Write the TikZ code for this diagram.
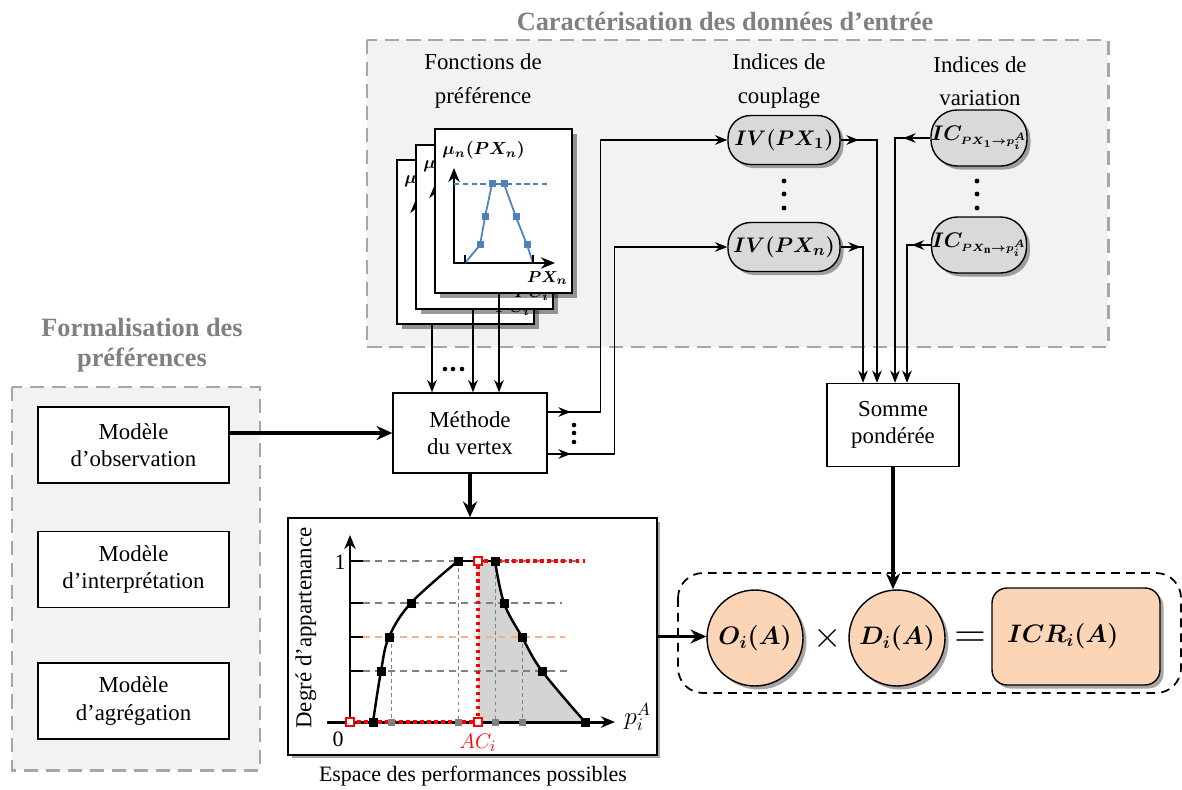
\documentclass[tikz,border=0pt]{standalone}
\usepackage{amsmath}
\usepackage{amssymb}
\usepackage{bm}
\usepackage{fontspec}
\setmainfont{Liberation Serif}
\usetikzlibrary{arrows.meta,calc,shadows,decorations.markings}

\definecolor{grisfond}{HTML}{F2F2F2}
\definecolor{grisbord}{HTML}{A6A6A6}
\definecolor{grispill}{HTML}{D9D9D9}
\definecolor{peche}{HTML}{FBD5B5}
\definecolor{bleucourbe}{HTML}{4F81BD}
\definecolor{orangetir}{HTML}{F4B183}

\tikzset{
  >={Stealth[length=7pt,width=5.5pt]},
  zone/.style={draw=grisbord, fill=grisfond, line width=1.7pt, dash pattern=on 8pt off 4.5pt},
  titrezone/.style={text=black!50, font=\fontsize{15}{17}\selectfont\bfseries, align=center},
  entete/.style={align=center, font=\fontsize{13}{19}\selectfont},
  boite/.style={draw, fill=white, line width=0.8pt, align=center, inner sep=0pt, font=\fontsize{13}{15.5}\selectfont},
  ombre/.style={drop shadow={shadow xshift=2pt, shadow yshift=-2pt, opacity=0.35, fill=black}},
  pilule/.style={draw, fill=grispill, line width=0.8pt, inner sep=0pt, rounded corners=#1, ombre},
  carte/.style={draw, fill=white, line width=0.9pt, minimum width=2.74cm, minimum height=3.28cm, inner sep=0pt,
    drop shadow={shadow xshift=3pt, shadow yshift=-3pt, opacity=0.4, fill=black}},
  rond/.style={circle, draw, fill=peche, line width=0.8pt, minimum size=1.92cm, inner sep=0pt,
    font=\fontsize{14.5}{16}\selectfont, ombre},
  fil/.style={line width=0.8pt},
  gros/.style={line width=2.2pt, -{Stealth[length=9pt,width=8pt]}},
  axe/.style={line width=1.6pt, -{Stealth[length=8pt,width=6.5pt]}},
  milieu/.style={postaction={decorate}, decoration={markings, mark=at position #1 with {\arrow{Stealth[length=7pt,width=5.5pt]}}}},
}

\begin{document}
\begin{tikzpicture}[x=0.02cm, y=-0.02cm]
    \useasboundingbox (0,0) rectangle (1182,790);

    % Zones grises
    \draw[zone] (367,40) rectangle (1108,347);
    \draw[zone] (12,387) rectangle (260,770);
    \node[titrezone] (titreCarac) at (725,21) {Caractérisation des données d’entrée};
    \node[titrezone] (titreForm) at (142,345) {Formalisation des\\préférences};

    % En-têtes des colonnes
    \node[entete] (teteFonc) at (483,81) {Fonctions de\\préférence};
    \node[entete] (teteCoup) at (779,81) {Indices de\\couplage};
    \node[entete] (teteVar) at (980,81) {Indices de\\variation};

    % Fonctions de préférence (cartes empilées)
    \foreach \cx/\cy/\nom/\haut/\bas in {396/159/carteC/{$\bm{\mu}$}/{$\bm{PC_i}$},
        415/144/carteB/{$\bm{\mu}$}/{$\bm{PC_i}$},
        434/128/carteA/{$\bm{\mu_n(PX_n)}$}/{$\bm{PX_n}$}}{
      \node[carte, anchor=north west] (\nom) at (\cx,\cy) {};
      \node[anchor=west, inner sep=0pt, font=\fontsize{10}{12}\selectfont] (\nom-haut) at (\cx+8,\cy+22) {\haut};
      \node[anchor=east, inner sep=0pt, font=\fontsize{9.5}{11}\selectfont] (\nom-bas) at (\cx+134,\cy+150) {\bas};
      \draw[axe] (\cx+20,\cy+135) -- (\cx+20,\cy+40);
      \draw[axe] (\cx+19,\cy+135) -- (\cx+121,\cy+135);
    }
    \draw[bleucourbe, line width=0.6pt, dash pattern=on 3pt off 2pt] (454,184) -- (548,184);
    \draw[bleucourbe, line width=1pt] (465,263) -- (480,245) -- (485,217) -- (492,184) -- (504,184) -- (516,217) -- (527,245) -- (533,263);
    \foreach \px/\py in {480/245,485/217,492/184,504/184,516/217,527/245}
      \fill[bleucourbe] (\px-3.5,\py-3.5) rectangle ++(7,7);
    \draw[line width=0.8pt] (465,263) -- (465,255) (533,263) -- (533,255);

    % Indices
    \node[pilule=0.45cm, minimum width=2.24cm, minimum height=0.98cm, font=\fontsize{12.5}{14}\selectfont] (iv1) at (784,140) {$\bm{IV(PX_1)}$};
    \node[pilule=0.45cm, minimum width=2.24cm, minimum height=0.98cm, font=\fontsize{12.5}{14}\selectfont] (ivn) at (784,247) {$\bm{IV(PX_n)}$};
    \node[pilule=0.52cm, minimum width=1.9cm, minimum height=1.12cm, font=\fontsize{13}{14}\selectfont] (ic1) at (979,138) {$\bm{IC_{\scriptscriptstyle PX_1\rightarrow p_i^A}}$};
    \node[pilule=0.52cm, minimum width=1.9cm, minimum height=1.12cm, font=\fontsize{13}{14}\selectfont] (icn) at (979,245) {$\bm{IC_{\scriptscriptstyle PX_{\mathrm{n}}\rightarrow p_i^A}}$};
    \foreach \dy in {181,194,208} {
      \fill (784,\dy) circle[radius=1.4pt];
      \fill (977,\dy) circle[radius=1.4pt];
    }

    % Boîtes principales
    \node[boite, minimum width=3.08cm, minimum height=1.6cm] (metho) at (470,433) {Méthode\\du vertex};
    \node[boite, minimum width=2.64cm, minimum height=1.66cm] (somme) at (893,425) {Somme\\pondérée};
    \node[boite, minimum width=3.82cm, minimum height=1.52cm] (obs) at (133.5,445) {Modèle\\d’observation};
    \node[boite, minimum width=3.82cm, minimum height=1.52cm] (interp) at (133.5,569.5) {Modèle\\d’interprétation};
    \node[boite, minimum width=3.82cm, minimum height=1.52cm] (agreg) at (133.5,701) {Modèle\\d’agrégation};

    % Flèches des cartes vers la méthode
    \path ($(metho.north)+(-38,0)$) coordinate (e1) ($(metho.north)+(3,0)$) coordinate (e2) ($(metho.north)+(29,0)$) coordinate (e3);
    \draw[fil, ->] (e1 |- carteC.south) -- (e1);
    \draw[fil, ->] (e2 |- carteB.south) -- (e2);
    \draw[fil, ->] (e3 |- carteA.south) -- (e3);
    \foreach \dx in {445,453,462} \fill (\dx,369) circle[radius=1.3pt];

    % Sorties de la méthode
    \draw[fil, ->, milieu=0.46cm] ($(metho.east)+(0,-21)$) -- ++(53,0) |- (iv1.west);
    \draw[fil, ->, milieu=0.46cm] ($(metho.east)+(0,21)$) -- ++(67,0) |- (ivn.west);
    \foreach \dy in {425,433,442} \fill (574,\dy) circle[radius=1.3pt];

    % Vers la somme pondérée
    \path ($(somme.north)+(-30,0)$) coordinate (s1) ($(somme.north)+(-16,0)$) coordinate (s2)
          ($(somme.north)+(2,0)$) coordinate (s3) ($(somme.north)+(14,0)$) coordinate (s4);
    \draw[fil, ->, milieu=0.36cm] (iv1.east) -| (s2);
    \draw[fil, ->, milieu=0.4cm] (ivn.east) -| (s1);
    \draw[fil, ->, milieu=0.54cm] (ic1.west) -| (s3);
    \draw[fil, ->, milieu=0.38cm] (icn.west) -| (s4);

    % Espace des performances possibles
    \node[boite, minimum width=7.38cm, minimum height=4.74cm, ombre] (graphe) at (472.5,636.5) {};
    \fill[black!17] (478,722) -- (478,561) -- (495,561) -- plot[smooth, tension=0.6] coordinates {(495,561) (504,603) (522,637) (542,671) (585,722)} -- cycle;
    \foreach \ny/\fin in {561/582, 603/562, 671/572}
      \draw[gray, line width=0.6pt, dash pattern=on 4pt off 3pt] (363,\ny) -- (\fin,\ny);
    \draw[orangetir, line width=0.7pt, dash pattern=on 4pt off 3pt] (363,637) -- (565,637);
    \foreach \nx/\ny in {391/637, 458/561, 495/561, 522/637}
      \draw[gray, line width=0.5pt, dash pattern=on 2pt off 2pt] (\nx,\ny) -- (\nx,722);
    \foreach \ny in {561,603,637,671}
      \draw[line width=1pt] (350,\ny) -- (363,\ny);
    \draw[line width=1.4pt] plot[smooth, tension=0.6] coordinates {(373,722) (381,671) (389,637) (411,603) (458,561)};
    \draw[line width=1.4pt] (458,561) -- (495,561);
    \draw[line width=1.4pt] plot[smooth, tension=0.6] coordinates {(495,561) (504,603) (522,637) (542,671) (585,722)};
    \draw[axe, line width=1.7pt] (327,722) -- (615,722);
    \draw[axe, line width=1.7pt] (350,724) -- (350,535);
    \draw[red, line width=2pt, dash pattern=on 2pt off 2pt] (350,722) -- (478,722) -- (478,561) -- (585,561);
    \foreach \px in {391,458,495,522}
      \fill[gray] (\px-3.5,718.5) rectangle ++(7,7);
    \foreach \px/\py in {373/722,381/671,389/637,411/603,458/561,495/561,504/603,522/637,542/671,585/722}
      \fill (\px-4.5,\py-4.5) rectangle ++(9,9);
    \foreach \px/\py in {350/722,478/722,478/561}
      \draw[red, fill=white, line width=0.8pt] (\px-4,\py-4) rectangle ++(8,8);
    \node[font=\fontsize{12.5}{14}\selectfont] (un) at (340,562) {1};
    \node[font=\fontsize{12.5}{14}\selectfont] (zero) at (338,739) {0};
    \node[font=\fontsize{14}{15}\selectfont, anchor=west, inner sep=0pt] (pia) at (624,717) {$p_i^A$};
    \node[red, font=\fontsize{13}{14}\selectfont] (aci) at (478,743) {$AC_i$};
    \node[rotate=90, font=\fontsize{13}{14}\selectfont] (degre) at (306,628) {Degré d’appartenance};
    \node[font=\fontsize{12.5}{14}\selectfont] (legende) at (473,776) {Espace des performances possibles};

    % Calcul de l'indice
    \draw[line width=1pt, dash pattern=on 5pt off 3.5pt, rounded corners=0.5cm] (678,573) rectangle (1181,693);
    \node[rond] (ocirc) at (755,638) {$\bm{O_i(A)}$};
    \node[rond] (dcirc) at (897,638) {$\bm{D_i(A)}$};
    \node[font=\fontsize{22}{24}\selectfont] (fois) at (828,638) {$\times$};
    \node[font=\fontsize{24}{26}\selectfont] (egal) at (970,640) {$=$};
    \node[draw, fill=peche, line width=0.8pt, rounded corners=0.3cm, minimum height=1.94cm,
      text width=2.76cm, inner xsep=0.3cm, align=left, font=\fontsize{14.5}{16}\selectfont, ombre] (icr) at (1076,636.5) {$\bm{ICR_i(A)}$};

    % Grosses flèches
    \draw[gros] (obs.east |- metho.west) -- (metho.west);
    \draw[gros] (metho.south) -- (metho.south |- graphe.north);
    \draw[gros] (graphe.east) -- (graphe.east -| ocirc.west);
    \draw[gros] (somme.south) -- (somme.south |- dcirc.north);
\end{tikzpicture}
\end{document}
